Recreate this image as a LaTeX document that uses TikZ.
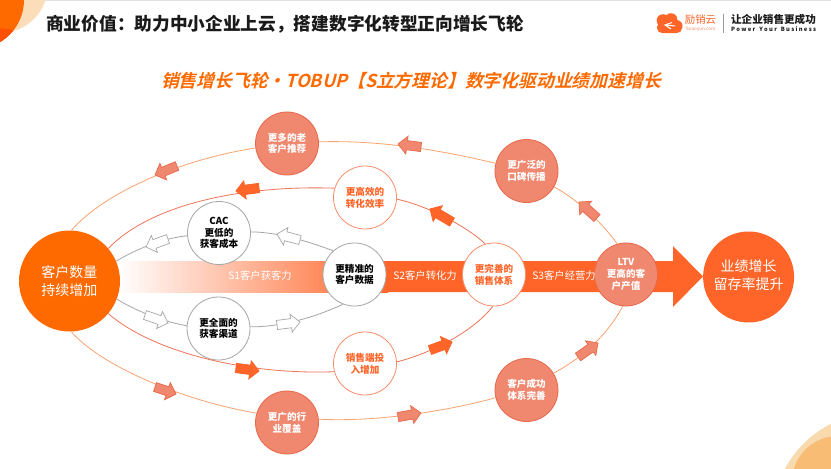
\documentclass[tikz,border=0pt]{standalone}
\usepackage{fontspec}
\usetikzlibrary{calc}
\setmainfont{Noto Sans CJK SC}
\newfontfamily\slantbold[FakeSlant=0.25,UprightFont=* Bold]{Noto Sans CJK SC}
\definecolor{bandc}{HTML}{FF6529}
\definecolor{bigo}{HTML}{FF6A00}
\definecolor{outerf}{HTML}{F0876F}
\definecolor{outerb}{HTML}{E8684A}
\definecolor{outerl}{HTML}{F9A36E}
\definecolor{midl}{HTML}{EF7357}
\definecolor{grayl}{HTML}{A6A6A6}
\definecolor{whiteb}{HTML}{F98E6C}
\definecolor{peach}{HTML}{FBDDB9}
\definecolor{peachb}{HTML}{F9D9AE}
\definecolor{peachc}{HTML}{F8BC75}
\definecolor{darko}{HTML}{FF4F00}
\definecolor{titlec}{HTML}{1A1A1A}
\newcommand{\blockarrow}[3]{%
  \coordinate (bt) at (#2); \coordinate (bh) at (#3);
  \coordinate (bm) at ($(bh)!9pt!(bt)$);
  \draw[#1] ($(bt)!4.6pt!90:(bh)$) -- ($(bm)!4.6pt!90:(bh)$) -- ($(bm)!9pt!90:(bh)$) -- (bh)
    -- ($(bm)!9pt!-90:(bh)$) -- ($(bm)!4.6pt!-90:(bh)$) -- ($(bt)!4.6pt!-90:(bh)$) -- cycle;}
\tikzset{
  circ/.style={circle,inner sep=0pt,minimum size=63pt,align=center,line width=0.8pt,
    font=\bfseries\fontsize{9.6}{11.7}\selectfont},
  outernode/.style={circ,fill=outerf,draw=outerb,text=white},
  whitenode/.style={circ,fill=white,draw=whiteb,text=bandc},
  graynode/.style={circ,fill=white,draw=grayl,text=black},
  bignode/.style={circle,inner sep=0pt,align=center,text=white,
    font=\fontsize{14}{17.5}\selectfont},
  bandlabel/.style={text=white,inner sep=0pt,font=\fontsize{10.3}{12}\selectfont},
  outerline/.style={draw=outerl,line width=0.8pt},
  midline/.style={draw=midl,line width=0.8pt},
  grayline/.style={draw=grayl,line width=0.8pt},
  outerarrow/.style={fill=outerf,draw=outerb,line width=0.7pt},
  midarrow/.style={fill=bandc,draw=bandc,line width=0.9pt},
  grayarrow/.style={fill=white,draw=grayl,line width=0.7pt},
}
\begin{document}
\begin{tikzpicture}[x=1pt,y=-1pt]
\useasboundingbox (0,0) rectangle (831,469);
\clip (0,0) rectangle (831,469);
\fill[white] (0,0) rectangle (831,469);
\fill[black!12] (0,0) rectangle (831,1);
% corner decorations
\fill[peach] (0,-15) circle[radius=48pt];
\fill[bigo] (-25,0) circle[radius=49pt];
\begin{scope}
  \clip (-25,0) circle[radius=49pt];
  \fill[darko] (-5,100) circle[radius=72pt];
\end{scope}
\fill[peachb] (880,520) circle[radius=108pt];
\fill[peachc] (838,482) circle[radius=46pt];
% titles
\node[anchor=west,inner sep=0pt,text=titlec,font=\bfseries\fontsize{17.7}{20}\selectfont] (title) at (46,24.5)
  {商业价值：助力中小企业上云，搭建数字化转型正向增长飞轮};
\node[inner sep=0pt,text=bigo,font=\slantbold\fontsize{17.8}{20}\selectfont] (subtitle) at (411,80.5)
  {销售增长飞轮・TOBUP【S立方理论】数字化驱动业绩加速增长};
% logo
\fill[bandc] (663,20.5) circle[radius=6.3pt] (671,19.5) circle[radius=6.3pt] (676.5,26) circle[radius=6pt];
\fill[bandc,rounded corners=5pt] (657,22) rectangle (682,33);
\draw[white,line width=1pt] (672,22.5) -- (665,25) -- (671,29) (665,25) -- (675,26);
\node[inner sep=0pt,text=bandc,font=\fontsize{10.4}{12}\selectfont] (logocn) at (700.5,19.5) {励销云};
\node[inner sep=0pt,text=whiteb,font=\fontsize{4.6}{6}\selectfont] (logourl) at (700.5,29) {lixiaoyun.com};
\draw[black!40,line width=0.6pt] (723.5,13.5) -- (723.5,33);
\node[inner sep=0pt,text=titlec,font=\bfseries\fontsize{10.6}{12}\selectfont] (slogan) at (773.5,19.8) {让企业销售更成功};
\node[inner sep=0pt,text=titlec,font=\bfseries\fontsize{5.8}{7}\selectfont,text width=85pt,align=justify] (sloganen) at (773.5,29.2)
  {\makebox[85pt][s]{P o w e r\hfil Y o u r\hfil B u s i n e s s}};
% band and big arrow
\shade[left color=white,right color=bandc,shading angle=90,draw=none] (118,261) rectangle (388,292);
\fill[bandc] (387,261) -- (673,261) -- (673,246) -- (703,276.5) -- (673,307) -- (673,292) -- (387,292) -- cycle;
% nodes
\node[bignode,fill=bigo,minimum size=101pt] (big) at (69.5,281) {客户数量\\持续增加};
\node[bignode,fill=bandc,minimum size=91pt] (result) at (748.6,277) {\raisebox{5pt}{\begin{tabular}{@{}c@{}}业绩增长\\留存率提升\end{tabular}}};
\node[outernode] (more) at (287,143.5) {更多的老\\客户推荐};
\node[outernode] (wide) at (526.5,171) {更广泛的\\口碑传播};
\node[outernode] (ltv) at (626,274.5) {LTV\\更高的客\\户产值};
\node[outernode] (industry) at (287,422.5) {更广的行\\业覆盖};
\node[outernode] (success) at (526.5,390) {客户成功\\体系完善};
\node[whitenode] (eff) at (365,197.5) {更高效的\\转化效率};
\node[whitenode] (sys) at (494,274.5) {更完善的\\销售体系};
\node[whitenode] (invest) at (365,363.5) {销售端投\\入增加};
\node[graynode] (cac) at (219,233) {CAC\\更低的\\获客成本};
\node[graynode] (channel) at (218.5,328.5) {更全面的\\获客渠道};
\node[graynode] (data) at (354.5,274.5) {更精准的\\客户数据};
% band labels
\node[bandlabel] (s1) at (260,276) {S1客户获客力};
\node[bandlabel] (s2) at (425,276) {S2客户转化力};
\node[bandlabel] (s3) at (564,276) {S3客户经营力};
% outer loop
\draw[outerline] (big.88) .. controls (105,192) and (180,160) .. (more.188);
\draw[outerline] (more.3) .. controls (380,140) and (440,150) .. (wide.166);
\draw[outerline] (wide.-30) .. controls (575,198) and (600,220) .. (ltv.106);
\draw[outerline] (big.-88) .. controls (100,365) and (180,400) .. (industry.163);
\draw[outerline] (industry.6) .. controls (370,422) and (440,413) .. (success.194);
\draw[outerline] (success.32) .. controls (575,362) and (605,340) .. (ltv.264);
% middle loop
\draw[midline] (big.40) .. controls (150,205) and (240,185) .. (eff.163);
\draw[midline] (eff.-3) .. controls (425,205) and (465,225) .. (sys.106);
\draw[midline] (big.-40) .. controls (150,350) and (240,375) .. (invest.195);
\draw[midline] (invest.3) .. controls (425,355) and (470,335) .. (sys.268);
% inner loop
\draw[grayline] (big.23.6) .. controls (140,247) and (165,238) .. (cac.185);
\draw[grayline] (cac.2) .. controls (275,232) and (305,240) .. (data.132);
\draw[grayline] (big.-21) .. controls (140,313) and (165,322) .. (channel.175);
\draw[grayline] (channel.3) .. controls (285,327) and (320,315) .. (data.249);
% block arrows
\blockarrow{outerarrow}{177,166}{155,175}
\blockarrow{outerarrow}{421,147}{398,144}
\blockarrow{outerarrow}{597,218}{579,202}
\blockarrow{outerarrow}{155,387}{176,394}
\blockarrow{outerarrow}{398,417}{421,413}
\blockarrow{outerarrow}{578,357}{598,343}
\blockarrow{midarrow}{259,188}{236,191}
\blockarrow{midarrow}{452,222}{430,209}
\blockarrow{midarrow}{236,368}{259,371}
\blockarrow{midarrow}{430,350}{452,342}
\blockarrow{grayarrow}{168,239}{146,247}
\blockarrow{grayarrow}{300,240}{277,234}
\blockarrow{grayarrow}{145,315}{168,323}
\blockarrow{grayarrow}{277,325}{300,322}
\end{tikzpicture}
\end{document}
